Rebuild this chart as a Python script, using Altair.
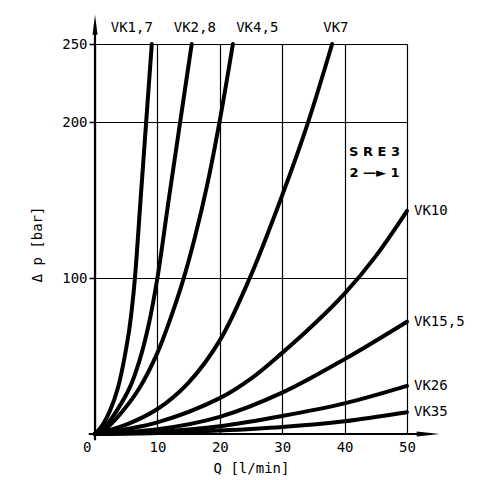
import altair as alt
import pandas as pd

# ---------------- data ----------------
series = ["VK1,7", "VK2,8", "VK4,5", "VK7", "VK10", "VK15,5", "VK26", "VK35"]

q_vk1_7 = [0, 1.0, 2.4, 3.7, 5.3, 5.9, 6.4, 7.3, 8.2, 9.1]
dp_vk1_7 = [0, 4.5, 15, 30, 62, 80, 100, 150, 200, 250]

q_vk2_8 = [0, 1.6, 3.5, 5.6, 7.2, 8.6, 10.0, 11.7, 13.5, 15.5]
dp_vk2_8 = [0, 4.7, 15, 30, 48, 70, 100, 147, 196, 250]

q_vk4_5 = [0, 2.1, 4.5, 7.2, 10.0, 12.0, 14.0, 16.0, 18.0, 20.0, 22.1]
dp_vk4_5 = [0, 4.7, 15, 30, 52, 73, 97, 126, 160, 201, 250]

q_vk7 = [0, 5, 10, 15, 20, 24.8, 30, 34, 38]
dp_vk7 = [0, 6, 16, 33, 60, 100, 153, 198, 250]

q_vk10 = [0, 10, 20, 25, 30, 35, 40, 45, 50]
dp_vk10 = [0, 7.5, 23, 35.5, 52, 70, 90, 114, 143]

q_vk15_5 = [0, 10, 20, 30, 40, 50]
dp_vk15_5 = [0, 3, 11, 26.5, 48, 72]

q_vk26 = [0, 10, 20, 30, 40, 50]
dp_vk26 = [0, 1.5, 5, 11.5, 19.6, 30.8]

q_vk35 = [0, 10, 20, 30, 40, 50]
dp_vk35 = [0, 0.7, 2.2, 4.5, 8.2, 14.0]

all_q = [q_vk1_7, q_vk2_8, q_vk4_5, q_vk7, q_vk10, q_vk15_5, q_vk26, q_vk35]
all_dp = [dp_vk1_7, dp_vk2_8, dp_vk4_5, dp_vk7, dp_vk10, dp_vk15_5, dp_vk26, dp_vk35]

# labels above the chart (anchor in data units)
top_labels = ["VK1,7", "VK2,8", "VK4,5", "VK7"]
top_label_q = [5.9, 16.0, 26.0, 38.6]
top_label_dp = [260, 260, 260, 260]

# labels at right end of curves
right_labels = ["VK10", "VK15,5", "VK26", "VK35"]

x_ticks = [0, 10, 20, 30, 40, 50]
y_ticks = [100, 200, 250]

# ---------------- build tables ----------------
rows = []
for name, qs, dps in zip(series, all_q, all_dp):
    for i, (q, d) in enumerate(zip(qs, dps)):
        rows.append({"series": name, "Q": q, "dp": d, "i": i})
df = pd.DataFrame(rows)

df_top = pd.DataFrame({"label": top_labels, "Q": top_label_q, "dp": top_label_dp})
df_right = pd.DataFrame({
    "label": right_labels,
    "Q": [all_q[series.index(n)][-1] for n in right_labels],
    "dp": [all_dp[series.index(n)][-1] for n in right_labels],
})

FONT = "DejaVu Sans Mono"

xscale = alt.Scale(domain=[0, 50], nice=False, zero=False)
yscale = alt.Scale(domain=[0, 250], nice=False, zero=False)

x_enc = alt.X("Q:Q", scale=xscale, axis=alt.Axis(
    values=x_ticks, title="Q [l/min]", domain=False, ticks=False,
    grid=True, gridColor="black", gridWidth=1.2, gridOpacity=1,
    labelFont=FONT, labelFontSize=14, labelColor="black", labelPadding=6,
    labelAlign={"condition": {"test": "datum.value == 0", "value": "right"}, "value": "center"},
    labelOffset={"condition": {"test": "datum.value == 0", "value": -4}, "value": 0},
    titleFont=FONT, titleFontSize=14, titleFontWeight="normal", titleColor="black",
    titleX=156, titleY=34, titleBaseline="middle", titleAlign="center",
))
y_enc = alt.Y("dp:Q", scale=yscale, axis=alt.Axis(
    values=y_ticks, title="Δ p [bar]", domain=False,
    ticks=True, tickSize=6, tickColor="black", tickWidth=1.5,
    grid=True, gridColor="black", gridWidth=1.2, gridOpacity=1,
    labelFont=FONT, labelFontSize=14, labelColor="black", labelPadding=2,
    titleFont=FONT, titleFontSize=14, titleFontWeight="normal", titleColor="black",
    titleX=-58, titleY=200, titleBaseline="middle", titleAlign="center", titleAngle=-90,
))

lines = alt.Chart(df).mark_line(
    interpolate="catmull-rom", color="black", strokeWidth=4, strokeCap="round"
).encode(x=x_enc, y=y_enc, detail="series:N", order="i:Q")

# axis lines with arrows
axis_y_line = alt.Chart(pd.DataFrame({"Q": [0], "y1": [-4], "y2": [262]})).mark_rule(
    color="black", strokeWidth=2.2
).encode(x=alt.X("Q:Q", scale=xscale), y=alt.Y("y1:Q", scale=yscale), y2="y2:Q")
axis_x_line = alt.Chart(pd.DataFrame({"dp": [0], "x1": [-1], "x2": [53.4]})).mark_rule(
    color="black", strokeWidth=2.2
).encode(y=alt.Y("dp:Q", scale=yscale), x=alt.X("x1:Q", scale=xscale), x2="x2:Q")

arrow_up = alt.Chart(pd.DataFrame({"Q": [0], "dp": [262.3]})).mark_point(
    shape="M0,-1L0.25,1L-0.25,1Z", size=400, filled=True, color="black", opacity=1
).encode(x=alt.X("Q:Q", scale=xscale), y=alt.Y("dp:Q", scale=yscale))
arrow_right = alt.Chart(pd.DataFrame({"Q": [53.4], "dp": [0]})).mark_point(
    shape="M1,0L-1,-0.22L-1,0.22Z", size=529, filled=True, color="black", opacity=1
).encode(x=alt.X("Q:Q", scale=xscale), y=alt.Y("dp:Q", scale=yscale))

top_text = alt.Chart(df_top).mark_text(
    font=FONT, fontSize=14, color="black", align="center", baseline="middle"
).encode(x=alt.X("Q:Q", scale=xscale), y=alt.Y("dp:Q", scale=yscale), text="label:N")

right_text = alt.Chart(df_right).mark_text(
    font=FONT, fontSize=14, color="black", align="left", baseline="middle", dx=7
).encode(x=alt.X("Q:Q", scale=xscale), y=alt.Y("dp:Q", scale=yscale), text="label:N")

sre = alt.Chart(pd.DataFrame({"label": ["S R E 3", "2 —► 1"], "Q": [44.8, 44.8], "dp": [180.6, 167.2]})).mark_text(
    font="DejaVu Sans", fontSize=13, fontWeight="bold", color="black", align="center", baseline="middle"
).encode(x=alt.X("Q:Q", scale=xscale), y=alt.Y("dp:Q", scale=yscale), text="label:N")

chart = alt.layer(
    lines, axis_y_line, axis_x_line, arrow_up, arrow_right, top_text, right_text, sre
).properties(
    width=312, height=390,
    autosize=alt.AutoSizeParams(type="none"),
    padding={"left": 87, "top": 36, "right": 70, "bottom": 44},
).configure_view(stroke=None)

chart.save("out.html", embed_options={"renderer": "svg", "actions": False})
